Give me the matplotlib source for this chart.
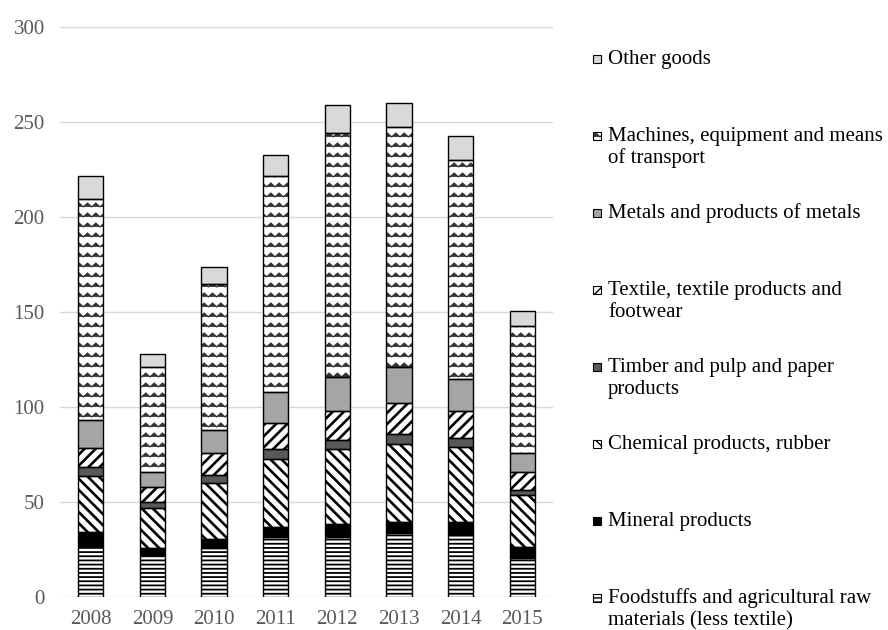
import warnings
import numpy as np
import matplotlib
matplotlib.use('Agg')
import matplotlib.pyplot as plt
import matplotlib.hatch as mhatch
from matplotlib.path import Path
from matplotlib.patches import Rectangle

warnings.filterwarnings('ignore')

years = ['2008', '2009', '2010', '2011', '2012', '2013', '2014', '2015']

# bottom to top of each stack
foodstuffs = [26.8, 22.1, 25.6, 31.7, 31.7, 33.5, 32.6, 20.4]
mineral = [7.6, 3.5, 5.1, 5.0, 6.9, 6.0, 7.0, 5.9]
chemical = [29.3, 21.1, 29.1, 35.8, 39.1, 41.0, 39.5, 27.4]
timber = [4.6, 3.5, 4.4, 5.2, 4.9, 5.3, 4.7, 2.8]
textile = [10.0, 7.8, 11.4, 13.7, 15.3, 16.5, 14.2, 9.5]
metals = [14.9, 8.0, 12.3, 16.6, 18.0, 18.9, 16.6, 10.0]
machines = [116.3, 55.2, 76.7, 113.6, 128.1, 126.0, 115.4, 66.8]
other = [12.1, 6.5, 9.2, 10.8, 14.9, 13.0, 12.6, 7.9]

series = [foodstuffs, mineral, chemical, timber, textile, metals, machines, other]
labels = ['Foodstuffs and agricultural raw\nmaterials (less textile)',
          'Mineral products',
          'Chemical products, rubber',
          'Timber and pulp and paper\nproducts',
          'Textile, textile products and\nfootwear',
          'Metals and products of metals',
          'Machines, equipment and means\nof transport',
          'Other goods']

# fill colour, hatch, hatch colour, hatch line width
styles = [('white', '----', 'black', 1.3),
          ('black', None, 'black', 1.0),
          ('white', '\\\\\\', 'black', 1.9),
          ('#595959', None, 'black', 1.0),
          ('white', '///', 'black', 1.9),
          ('#a5a5a5', None, 'black', 1.0),
          ('white', '~', '#333333', 0.9),
          ('#d9d9d9', None, 'black', 1.0)]


class WaveHatch(mhatch.HatchPatternBase):
    # zigzag rows for '~', matplotlib has no wave hatch
    def __init__(self, hatch, density):
        self.num_rows = hatch.count('~') * 10
        self.num_periods = 12
        self.num_vertices = self.num_rows * (2 * self.num_periods + 1)

    def set_vertices_and_codes(self, vertices, codes):
        n = 2 * self.num_periods + 1
        xs = np.linspace(0, 1, n)
        dy = np.where(np.arange(n) % 2 == 0, -0.019, 0.019)
        for r in range(self.num_rows):
            a = r * n
            vertices[a:a + n, 0] = xs
            vertices[a:a + n, 1] = (r + 0.5) / self.num_rows + dy
            codes[a:a + n] = Path.LINETO
            codes[a] = Path.MOVETO


mhatch._hatch_types.append(WaveHatch)

plt.rcParams['font.family'] = ['Liberation Serif', 'DejaVu Serif']


def hatch_lw(patch, lw):
    if hasattr(patch, 'set_hatch_linewidth'):
        patch.set_hatch_linewidth(lw)


W, H = 888, 630
fig = plt.figure(figsize=(W / 100, H / 100), dpi=100)
ax = fig.add_axes([60 / W, 33 / H, 493 / W, 570 / H])

x = np.arange(len(years))
bottom = np.zeros(len(years))
for vals, (fc, hatch, hc, hlw) in zip(series, styles):
    plt.rcParams['hatch.linewidth'] = hlw
    # fill + hatch first (hatch takes the edge colour), black outline on top
    bars = ax.bar(x, vals, 0.41, bottom=bottom, color=fc, edgecolor=hc,
                  linewidth=0, hatch=hatch, zorder=3)
    for b in bars:
        hatch_lw(b, hlw)
    ax.bar(x, vals, 0.41, bottom=bottom, fill=False, edgecolor='black',
           linewidth=1.0, zorder=4)
    bottom += np.array(vals)

ax.set_xlim(-0.5, len(years) - 0.5)
ax.set_ylim(0, 300)
ax.set_yticks(range(0, 301, 50))
ax.set_xticks(x)
ax.set_xticklabels(years)
ax.grid(axis='y', color='#d9d9d9', linewidth=1.0, zorder=0)
ax.set_axisbelow(True)
for s in ax.spines.values():
    s.set_visible(False)
ax.tick_params(axis='y', length=0, pad=11, labelsize=15, labelcolor='#595959')
ax.tick_params(axis='x', length=0, pad=9, labelsize=15, labelcolor='#595959')

# legend, top entry first, drawn by hand to get Excel-like spacing
for i, idx in enumerate(range(len(series) - 1, -1, -1)):
    fc, hatch, hc, hlw = styles[idx]
    base = 64 + 77 * i
    plt.rcParams['hatch.linewidth'] = min(hlw, 1.0)
    r = Rectangle((593 / W, 1 - (base - 1) / H), 8 / W, 8 / H,
                  transform=fig.transFigure, facecolor=fc, edgecolor=hc,
                  linewidth=0, hatch=hatch)
    hatch_lw(r, min(hlw, 1.0))
    fig.add_artist(r)
    fig.add_artist(Rectangle((593 / W, 1 - (base - 1) / H), 8 / W, 8 / H,
                             transform=fig.transFigure, fill=False,
                             edgecolor='black', linewidth=0.8))
    for j, line in enumerate(labels[idx].split('\n')):
        fig.text(608 / W, 1 - (base + 22 * j) / H, line, ha='left',
                 va='baseline', fontsize=15, color='black')

fig.savefig('out.png', dpi=100)
